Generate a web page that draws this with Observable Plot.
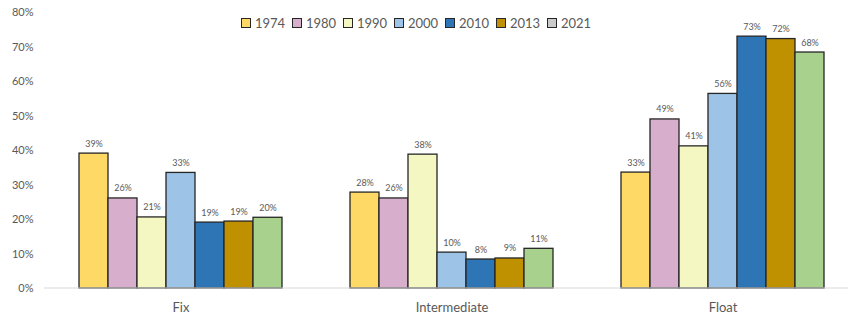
<!DOCTYPE html>
<html>
<head>
<meta charset="utf-8">
<script src="https://cdn.jsdelivr.net/npm/d3@7"></script>
<script src="https://cdn.jsdelivr.net/npm/@observablehq/plot@0.6"></script>
<style>
  html, body { margin: 0; padding: 0; background: #fff; }
  #wrap { position: relative; width: 852px; height: 321px; font-family: Lato, "Open Sans", sans-serif; }
  #legend { position: absolute; top: 15px; left: 241px; display: flex; }
  .item { width: 51px; display: flex; align-items: center; font-size: 13px; color: #595959; }
  .sw { width: 8px; height: 8px; border: 1.3px solid #262626; margin-right: 4px; box-sizing: content-box; }
</style>
</head>
<body>
<div id="wrap"><div id="legend"></div></div>
<script>
const groups = ["Fix", "Intermediate", "Float"];
const years = ["1974", "1980", "1990", "2000", "2010", "2013", "2021"];
const fixValues = [39.1, 26.1, 20.6, 33.5, 19.1, 19.4, 20.5];
const intermediateValues = [27.8, 26.1, 38.8, 10.4, 8.4, 8.7, 11.5];
const floatValues = [33.6, 49.0, 41.2, 56.4, 73.0, 72.3, 68.4];
const fixLabels = ["39%", "26%", "21%", "33%", "19%", "19%", "20%"];
const intermediateLabels = ["28%", "26%", "38%", "10%", "8%", "9%", "11%"];
const floatLabels = ["33%", "49%", "41%", "56%", "73%", "72%", "68%"];
const yTicks = [0, 10, 20, 30, 40, 50, 60, 70, 80];
const barColors = ["#FFD966", "#D8AECD", "#F4F7C2", "#9DC3E6", "#2E75B6", "#BF9000", "#A9D18E"];
const legendColors = ["#FFD966", "#D8AECD", "#F4F7C2", "#9DC3E6", "#2E75B6", "#BF9000", "#C9C9C9"];

const seriesValues = [fixValues, intermediateValues, floatValues];
const seriesLabels = [fixLabels, intermediateLabels, floatLabels];
const data = [];
groups.forEach((g, gi) => years.forEach((y, yi) => {
  data.push({group: g, year: y, value: seriesValues[gi][yi], label: seriesLabels[gi][yi]});
}));

const plot = Plot.plot({
  width: 852,
  height: 321,
  marginLeft: 76,
  marginRight: 24,
  marginTop: 12,
  marginBottom: 33,
  style: {fontFamily: "Lato, 'Open Sans', sans-serif", color: "#595959", background: "transparent"},
  fx: {domain: groups, paddingInner: 0.235, paddingOuter: 0, label: null},
  x: {domain: years, padding: 0, axis: null},
  y: {domain: [0, 80], axis: null, label: null},
  color: {domain: years, range: barColors},
  marks: [
    Plot.barY(data, {fx: "group", x: "year", y: "value", fill: "year", stroke: "#262626", strokeWidth: 1.3}),
    Plot.text(data, {fx: "group", x: "year", y: "value", text: "label", dy: -7, lineAnchor: "bottom", fontSize: 9, fill: "#595959"}),
    Plot.axisY({ticks: yTicks, tickFormat: d => d + "%", tickSize: 0, tickPadding: 44, fontSize: 11, fill: "#595959", label: null}),
    Plot.axisFx({anchor: "bottom", tickSize: 0, tickPadding: 14, fontSize: 13, label: null, fill: "#595959"})
  ]
});

const y0 = plot.scale("y").apply(0);
d3.select(plot).append("line")
  .attr("x1", 44).attr("x2", 848).attr("y1", y0).attr("y2", y0)
  .attr("stroke", "#d9d9d9").attr("stroke-width", 1);

document.getElementById("wrap").insertBefore(plot, document.getElementById("legend"));

const legend = d3.select("#legend");
years.forEach((y, i) => {
  const it = legend.append("div").attr("class", "item");
  it.append("div").attr("class", "sw").style("background", legendColors[i]);
  it.append("span").text(y);
});
</script>
</body>
</html>
